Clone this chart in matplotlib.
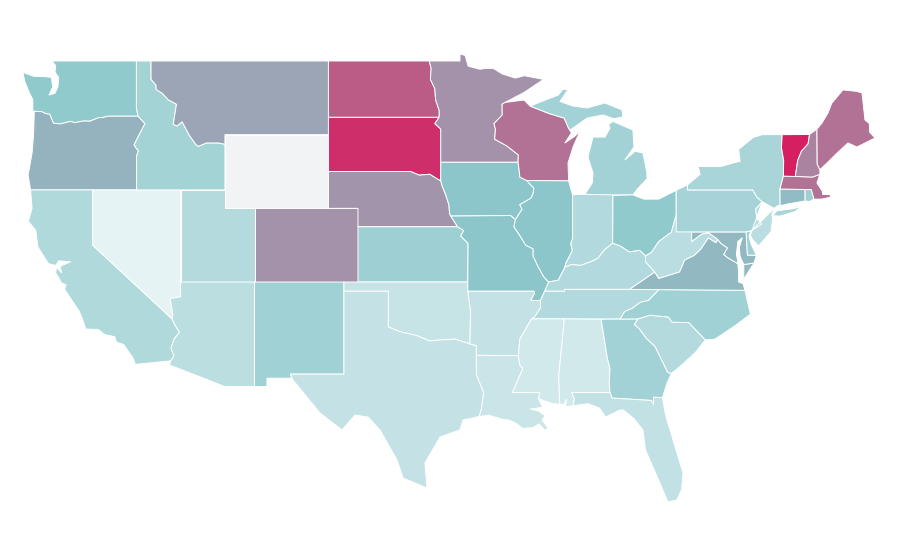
# -*- coding: utf-8 -*-
# choropleth of the lower 48 states, outlines are lon/lat
import matplotlib
matplotlib.use("Agg")
import matplotlib.pyplot as plt
from matplotlib.colors import LinearSegmentedColormap, Normalize

# shared borders
SNAKE = [(-116.92,46.0),(-116.46,45.6),(-116.85,45.0),(-117.2,44.45),(-117.03,44.23),(-116.9,44.15),(-117.03,43.83),(-117.03,42.0)]
COLUMBIA = [(-118.98,46.0),(-119.3,45.93),(-119.6,45.92),(-120.2,45.73),(-120.65,45.74),(-121.2,45.65),(-121.5,45.72),(-122.2,45.58),(-122.65,45.62),(-122.78,45.85),(-122.9,46.1),(-123.2,46.15),(-123.45,46.25),(-124.05,46.27)]
BITTERROOT = [(-116.05,49.0),(-116.05,48.0),(-115.72,47.7),(-115.7,47.45),(-115.3,47.25),(-114.9,46.9),(-114.33,46.65),(-114.55,45.56),(-114.3,45.47),(-113.95,45.7),(-113.45,44.95),(-113.0,44.45),(-112.85,44.37),(-112.3,44.55),(-111.5,44.55),(-111.05,44.48)]
COLORADO_R = [(-114.63,35.0),(-114.45,34.7),(-114.13,34.27),(-114.5,33.9),(-114.7,33.4),(-114.5,33.0),(-114.72,32.72)]
NV_AZ = [(-114.05,36.2),(-114.75,36.1),(-114.57,35.2),(-114.63,35.0)]
RED_N = [(-97.23,49.0),(-97.1,48.6),(-97.15,48.0),(-96.85,47.5),(-96.8,46.9),(-96.55,46.3),(-96.56,45.94)]
SD_MN = [(-96.56,45.94),(-96.85,45.6),(-96.45,45.3),(-96.45,43.5)]
MISSOURI_SD = [(-98.5,43.0),(-97.9,42.8),(-97.2,42.85),(-96.7,42.6),(-96.45,42.49)]
MISSOURI_IA = [(-96.45,42.49),(-96.35,42.2),(-96.1,41.7),(-95.9,41.2),(-95.85,40.7),(-95.77,40.58)]
MISSOURI_KS = [(-95.77,40.58),(-95.31,40.0),(-94.9,39.8),(-95.1,39.5),(-94.6,39.1),(-94.62,37.0)]
ST_CROIX = [(-92.1,46.75),(-92.3,46.65),(-92.29,46.07),(-92.85,45.6),(-92.75,45.3),(-92.8,44.75),(-92.0,44.4),(-91.2,43.9),(-91.22,43.5)]
MISS_IA_WI = [(-91.22,43.5),(-91.15,43.1),(-91.1,42.7),(-90.64,42.51)]
MISS_IA_IL = [(-90.64,42.51),(-90.15,42.1),(-90.2,41.8),(-90.35,41.55),(-91.1,41.2),(-90.95,40.95),(-91.4,40.38)]
MISS_MO_IL = [(-91.4,40.38),(-91.5,40.0),(-91.0,39.4),(-90.7,39.0),(-90.2,38.8),(-90.2,38.4),(-89.9,37.9),(-89.5,37.3),(-89.15,37.0)]
MISS_KY = [(-89.15,37.0),(-89.42,36.5)]
MISS_TN = [(-89.42,36.5),(-89.7,36.0),(-89.7,35.6),(-90.1,35.1),(-90.3,35.0)]
MISS_AR = [(-90.3,35.0),(-90.6,34.6),(-91.1,33.9),(-91.2,33.0)]
MISS_LA = [(-91.2,33.0),(-91.1,32.5),(-90.9,32.3),(-91.6,31.0)]
WABASH = [(-87.53,39.35),(-87.65,39.1),(-87.55,38.7),(-88.0,38.0),(-88.05,37.8)]
OHIO_IL = [(-88.05,37.8),(-88.5,37.1),(-89.15,37.0)]
OHIO_IN = [(-84.82,39.1),(-85.4,38.73),(-85.8,38.3),(-86.3,38.1),(-87.0,37.9),(-87.6,37.95),(-88.05,37.8)]
OHIO_OH = [(-82.6,38.42),(-83.0,38.72),(-83.7,38.63),(-84.3,38.95),(-84.82,39.1)]
OHIO_WV = [(-80.52,40.64),(-80.85,39.7),(-81.7,39.2),(-82.2,38.6),(-82.6,38.42)]
KY_WV = [(-82.6,38.42),(-82.6,38.1),(-81.97,37.54)]
VA_WV = [(-81.97,37.54),(-81.7,37.2),(-81.3,37.3),(-80.3,37.55),(-79.95,38.2),(-79.3,38.45),(-78.85,38.8),(-78.35,39.4),(-77.83,39.14),(-77.72,39.32)]
MD_WV = [(-77.72,39.32),(-78.35,39.68),(-78.8,39.6),(-79.48,39.2),(-79.48,39.72)]
POTOMAC = [(-77.72,39.32),(-77.5,39.1),(-77.05,38.85),(-77.3,38.5),(-77.0,38.3),(-76.35,38.0)]
RED_S = [(-94.48,33.64),(-95.5,33.9),(-96.6,33.85),(-97.2,33.8),(-98.1,34.1),(-99.2,34.3),(-100.0,34.56)]
SABINE = [(-93.85,29.7),(-93.7,30.1),(-93.55,31.0),(-93.8,31.5),(-94.04,32.0),(-94.04,33.02)]
PEARL = [(-91.6,31.0),(-89.73,31.0),(-89.85,30.67),(-89.55,30.2)]
AL_GA = [(-85.6,34.98),(-85.18,32.87),(-85.0,32.3),(-85.05,31.55),(-85.0,31.0)]
FL_GA = [(-85.0,31.0),(-84.86,30.7),(-82.2,30.57),(-82.05,30.36),(-82.05,30.75),(-81.45,30.72)]
SAVANNAH = [(-83.1,35.0),(-83.35,34.7),(-83.0,34.45),(-82.55,33.95),(-81.95,33.5),(-81.4,32.6),(-81.1,32.1),(-80.85,32.03)]
NC_SC = [(-83.1,35.0),(-82.3,35.2),(-81.05,35.1),(-80.8,34.82),(-79.67,34.8),(-78.55,33.86)]
NC_TN = [(-84.32,34.99),(-84.0,35.4),(-83.5,35.57),(-82.95,35.9),(-82.4,36.0),(-81.68,36.59)]
DELAWARE_R = [(-74.7,41.36),(-75.15,40.95),(-75.05,40.4),(-74.72,40.15),(-75.4,39.8)]
WI_UP = [(-90.4,46.55),(-89.1,46.14),(-88.1,45.9),(-87.8,45.35),(-87.6,45.1)]

# state outlines
WA = [(-122.76,49.0),(-117.04,49.0),(-117.04,46.42)] + SNAKE[:1] + COLUMBIA + [(-124.05,46.9),(-124.3,47.3),(-124.6,47.9),(-124.72,48.38),(-124.0,48.17),(-123.2,48.15),(-122.8,48.1),(-122.7,47.6),(-122.95,47.15),(-122.55,47.25),(-122.35,47.6),(-122.3,48.1),(-122.55,48.4),(-122.5,48.75)]
OR = COLUMBIA[::-1] + SNAKE + [(-124.2,42.0),(-124.37,42.8),(-124.1,44.0),(-124.0,45.0),(-123.95,46.2)]
CA = [(-124.2,42.0),(-120.0,42.0),(-120.0,39.0)] + COLORADO_R + [(-117.12,32.53),(-117.25,32.85),(-117.9,33.6),(-118.4,33.75),(-118.5,34.03),(-119.2,34.15),(-119.6,34.42),(-120.47,34.45),(-120.65,34.9),(-120.9,35.4),(-121.9,36.6),(-121.8,36.85),(-122.1,36.95),(-122.5,37.5),(-122.45,37.8),(-122.1,37.5),(-122.2,37.85),(-121.5,38.1),(-122.3,38.15),(-122.5,37.9),(-123.0,38.0),(-123.7,38.9),(-123.85,39.8),(-124.35,40.3),(-124.1,41.0)]
NV = [(-120.0,42.0),(-114.05,42.0)] + NV_AZ + [(-120.0,39.0)]
ID = [(-117.04,49.0)] + BITTERROOT + [(-111.05,42.0)] + SNAKE[::-1] + [(-117.04,46.42)]
MT = BITTERROOT + [(-111.05,45.0),(-104.05,45.0),(-104.05,49.0)]
WY = [(-111.05,45.0),(-104.05,45.0),(-104.05,41.0),(-111.05,41.0)]
UT = [(-114.05,42.0),(-111.05,42.0),(-111.05,41.0),(-109.05,41.0),(-109.05,37.0),(-114.05,37.0)]
AZ = [(-114.05,37.0),(-109.05,37.0),(-109.05,31.33),(-111.07,31.33),(-114.81,32.5)] + COLORADO_R[::-1] + NV_AZ[::-1]
CO = [(-109.05,41.0),(-102.05,41.0),(-102.05,37.0),(-109.05,37.0)]
NM = [(-109.05,37.0),(-103.0,37.0),(-103.0,32.0),(-106.62,32.0),(-106.53,31.78),(-108.21,31.78),(-108.21,31.33),(-109.05,31.33)]
ND = [(-104.05,49.0)] + RED_N + [(-104.05,45.94)]
SD = [(-104.05,45.94)] + RED_N[-1:] + SD_MN[1:] + MISSOURI_SD[::-1] + [(-104.05,43.0)]
NE = [(-104.05,43.0)] + MISSOURI_SD + MISSOURI_IA + MISSOURI_KS[1:2] + [(-102.05,40.0),(-102.05,41.0),(-104.05,41.0)]
KS = [(-102.05,40.0)] + MISSOURI_KS[1:] + [(-102.05,37.0)]
OK = [(-103.0,37.0),(-94.62,37.0),(-94.62,36.5),(-94.43,35.4)] + RED_S + [(-100.0,36.5),(-103.0,36.5)]
TX = [(-103.0,36.5),(-103.0,32.0),(-106.62,32.0),(-106.45,31.68),(-104.62,29.89),(-103.13,28.97),(-102.25,29.78),(-101.37,29.67),(-100.56,28.97),(-99.41,27.34),(-99.0,26.36),(-97.38,25.82),(-97.52,27.18),(-96.5,28.59),(-95.15,28.97),(-94.95,29.51)] + SABINE + [(-94.04,33.55)] + RED_S + [(-100.0,36.5)]
MN = [(-97.23,49.0),(-95.15,49.0),(-95.15,49.38),(-94.8,49.3),(-94.6,48.72),(-93.8,48.55),(-93.4,48.6),(-92.9,48.6),(-92.3,48.3),(-91.4,48.07),(-90.8,48.2),(-89.5,48.0),(-90.8,47.3)] + ST_CROIX + [(-96.45,43.5)] + SD_MN[::-1][1:] + RED_N[::-1][1:]
IA = [(-96.45,43.5),(-91.22,43.5)] + MISS_IA_WI[1:] + MISS_IA_IL[1:] + [(-91.73,40.61)] + MISSOURI_IA[::-1]
MO = [(-95.77,40.58),(-91.73,40.61)] + MISS_MO_IL + MISS_KY[1:] + MISS_TN[1:2] + [(-90.37,36.0),(-90.1,36.4),(-90.15,36.5),(-94.62,36.5)] + MISSOURI_KS[::-1]
AR = [(-94.62,36.5),(-90.15,36.5),(-90.1,36.4),(-90.37,36.0)] + MISS_TN[1:] + MISS_AR[1:] + [(-94.04,33.02),(-94.04,33.55),(-94.48,33.64),(-94.43,35.4)]
LA = MISS_LA + PEARL[1:] + [(-90.4,30.1),(-89.85,30.0),(-89.4,29.75),(-89.6,29.5),(-89.2,29.08),(-89.4,28.95),(-89.8,29.3),(-90.2,29.1),(-90.9,29.05),(-91.3,29.3),(-91.8,29.5),(-92.3,29.55),(-93.2,29.77)] + SABINE + [(-91.2,33.0)]
WI = [(-92.1,46.75),(-90.82,46.88),(-90.4,46.55)] + WI_UP[1:] + [(-88.05,44.55),(-87.4,44.9),(-87.03,45.2),(-87.5,44.33),(-87.84,43.46)] + [(-87.8,42.49)] + MISS_IA_WI[::-1] + ST_CROIX[::-1]
IL = [(-90.64,42.51),(-87.8,42.49),(-87.53,41.72)] + WABASH + OHIO_IL[1:] + MISS_MO_IL[::-1][1:] + MISS_IA_IL[::-1][1:]
IN = [(-87.53,41.72),(-87.2,41.76),(-84.8,41.76)] + OHIO_IN + WABASH[::-1][1:]
MI_LOWER = [(-86.7,41.76),(-84.8,41.73),(-83.45,41.73),(-83.15,42.05),(-82.5,42.6),(-82.5,42.92),(-82.77,44.0),(-83.3,44.1),(-83.99,43.63),(-83.38,44.33),(-83.45,45.25),(-84.8,45.72),(-85.1,45.55),(-85.0,45.35),(-85.34,44.87),(-86.15,44.87),(-86.49,43.79),(-86.15,42.92),(-86.2,42.38)]
MI_UPPER = WI_UP + [(-87.7,45.25),(-86.55,45.9),(-85.47,46.07),(-84.75,45.87),(-84.12,45.96),(-84.19,46.34),(-85.34,46.72),(-86.55,46.45),(-87.5,46.55),(-88.38,46.8),(-87.84,47.45),(-88.2,47.45),(-88.5,47.15),(-89.4,46.87)]
MI_ISLE = [(-89.1,47.92),(-88.65,48.12),(-88.9,47.98)]
OH = [(-84.8,41.7),(-83.45,41.73),(-82.7,41.5),(-81.7,41.5),(-80.52,41.98)] + OHIO_WV + OHIO_OH[1:]
KY = MISS_KY[::-1] + OHIO_IL[::-1][1:] + OHIO_IN[::-1][1:] + OHIO_OH[::-1][1:] + KY_WV[1:] + [(-83.68,36.6),(-88.06,36.6),(-88.07,36.5)]
TN = [(-89.42,36.5)] + MISS_TN[1:] + NC_TN + [(-83.68,36.6),(-88.06,36.6),(-88.07,36.5)]
MS = [(-90.3,35.0),(-88.2,35.0),(-88.1,34.9),(-88.47,31.9),(-88.4,30.37),(-88.9,30.4)] + PEARL[::-1][1:] + MISS_LA[::-1][1:] + MISS_AR[::-1][1:]
AL = [(-88.2,35.0)] + AL_GA + [(-87.6,31.0),(-87.4,30.65),(-87.5,30.28),(-88.0,30.23),(-87.95,30.65),(-88.1,30.35),(-88.4,30.37),(-88.47,31.9),(-88.1,34.9)]
GA = AL_GA + FL_GA[1:] + [(-81.15,31.5)] + SAVANNAH[::-1] + [(-84.32,34.99)]
FL = [(-87.6,31.0)] + FL_GA + [(-81.25,29.8),(-80.8,28.6),(-80.06,26.63),(-80.15,25.75),(-80.47,25.17),(-81.08,25.06),(-81.8,26.42),(-82.6,27.88),(-82.77,28.97),(-83.4,29.6),(-84.1,30.05),(-84.35,30.05),(-85.3,29.67),(-85.7,30.15),(-86.5,30.4),(-87.5,30.28),(-87.4,30.65)]
SC = NC_SC + [(-79.2,33.2),(-80.0,32.6)] + SAVANNAH[::-1]
NC = [(-81.68,36.59),(-75.87,36.55),(-75.5,35.25),(-76.5,34.65),(-77.9,33.9)] + NC_SC[::-1] + NC_TN
VA = [(-83.68,36.6)] + KY_WV[-1:] + VA_WV + POTOMAC[1:] + [(-76.3,37.5),(-76.3,37.0),(-76.0,36.92),(-75.87,36.55)]
VA_SHORE = [(-75.95,37.15),(-75.6,37.6),(-75.25,38.03),(-75.95,37.95)]
WV = MD_WV[::-1] + VA_WV[::-1] + KY_WV[::-1] + OHIO_WV[::-1]
MD = [(-79.48,39.72),(-75.79,39.72),(-75.7,38.46),(-75.1,38.45),(-75.25,38.03),(-75.95,37.95),(-76.2,38.4),(-76.25,38.9),(-76.05,39.4),(-76.35,39.2),(-76.45,38.5),(-76.35,38.1)] + POTOMAC[::-1] + MD_WV[1:4]
DE = [(-75.79,39.72),(-75.45,39.8),(-75.6,39.5),(-75.45,39.05),(-75.1,38.45),(-75.7,38.46)]
PA = [(-80.52,41.98),(-79.76,42.27),(-79.76,42.0),(-75.35,42.0),(-75.05,41.6)] + DELAWARE_R + [(-75.79,39.72),(-80.52,39.72),(-80.52,40.64)]
NJ = DELAWARE_R[::-1] + [(-75.5,39.55),(-75.35,39.3),(-74.95,38.95),(-74.1,39.75),(-74.0,40.45),(-74.05,40.65),(-73.9,41.0)]
NY = [(-79.76,42.0),(-79.76,42.27),(-78.9,42.85),(-79.05,43.27),(-77.5,43.27),(-76.5,43.5),(-76.2,43.55),(-76.3,44.2),(-75.3,44.85),(-74.7,45.0),(-73.35,45.0),(-73.4,44.3),(-73.25,43.6),(-73.27,42.75),(-73.5,42.05),(-73.49,41.2),(-73.73,41.1),(-73.9,41.0),(-74.7,41.36),(-75.05,41.6),(-75.35,42.0)]
NY_LONG = [(-74.0,40.6),(-73.7,40.87),(-72.6,40.98),(-72.0,41.1),(-72.5,40.82),(-73.5,40.58)]
CT = [(-73.5,42.05),(-71.8,42.02),(-71.8,41.4),(-72.9,41.25),(-73.73,41.1),(-73.49,41.2)]
RI = [(-71.8,42.02),(-71.38,42.02),(-71.2,41.5),(-71.5,41.37),(-71.8,41.4)]
MA = [(-73.5,42.05),(-73.27,42.75),(-72.46,42.73),(-71.3,42.7),(-70.8,42.85),(-71.0,42.38),(-70.65,41.95),(-70.6,41.75),(-70.1,41.75),(-70.1,41.6),(-70.7,41.5),(-71.2,41.5),(-71.38,42.02),(-71.8,42.02)]
VT = [(-73.35,45.0),(-71.5,45.01),(-71.6,44.5),(-72.05,44.1),(-72.3,43.6),(-72.46,42.73),(-73.27,42.75),(-73.25,43.6),(-73.4,44.3)]
NH = [(-71.5,45.01),(-71.0,45.3),(-70.98,43.4),(-70.8,43.1),(-70.8,42.85),(-71.3,42.7),(-72.46,42.73),(-72.3,43.6),(-72.05,44.1),(-71.6,44.5)]
ME = [(-71.0,45.3),(-70.66,45.63),(-70.25,46.18),(-70.0,46.7),(-69.24,47.43),(-68.3,47.35),(-67.95,47.26),(-67.75,45.8),(-67.45,45.6),(-67.45,45.15),(-67.07,44.82),(-68.29,44.33),(-68.9,44.55),(-69.64,44.0),(-70.32,43.46),(-70.8,43.1),(-70.98,43.4)]

state_names = ["WA","OR","CA","NV","ID","MT","WY","UT","AZ","CO","NM","ND","SD","NE","KS","OK","TX","MN","IA","MO","AR","LA","WI","IL","IN","MI","OH","KY","TN","MS","AL","GA","FL","SC","NC","VA","WV","MD","DE","PA","NJ","NY","CT","RI","MA","VT","NH","ME"]
state_values = [47,56,30,0,37,60,None,28,24,66,39,82,95,65,41,18,19,66,50,50,19,16,75,50,29,38,47,29,29,12,11,38,20,28,39,54,25,54,40,36,25,34,53,40,75,100,70,75]
state_shapes = [[WA],[OR],[CA],[NV],[ID],[MT],[WY],[UT],[AZ],[CO],[NM],[ND],[SD],[NE],[KS],[OK],[TX],[MN],[IA],[MO],[AR],[LA],[WI],[IL],[IN],[MI_LOWER,MI_UPPER,MI_ISLE],[OH],[KY],[TN],[MS],[AL],[GA],[FL],[SC],[NC],[VA,VA_SHORE],[WV],[MD],[DE],[PA],[NJ],[NY,NY_LONG],[CT],[RI],[MA],[VT],[NH],[ME]]

cmap = LinearSegmentedColormap.from_list("teal_pink", [(0, "#e6f3f5"), (0.5, "#8cc7cb"), (1, "#d51f60")])
norm = Normalize(0, 100)
NO_DATA = "#f2f3f5"

fig = plt.figure(figsize=(9, 5.6), dpi=100)
ax = fig.add_axes([0, 0, 1, 1])

for name, shapes, val in zip(state_names, state_shapes, state_values):
    c = NO_DATA if val is None else cmap(norm(val))
    for pts in shapes:
        xs = [p[0] for p in pts]
        ys = [p[1] for p in pts]
        ax.fill(xs, ys, facecolor=c, edgecolor="white", linewidth=0.7, joinstyle="round")

ax.set_xlim(-126.27, -65.38)
ax.set_ylim(21.91, 52.31)
ax.axis("off")
fig.savefig("out.png", dpi=100)
